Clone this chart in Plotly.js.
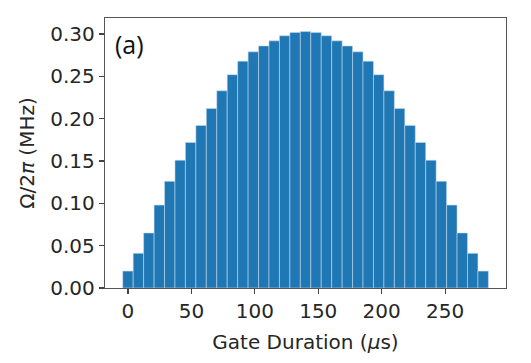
<!DOCTYPE html>
<html>
<head>
<meta charset="utf-8">
<script src="https://cdn.plot.ly/plotly-3.0.1.min.js"></script>
<style>html,body{margin:0;padding:0;background:#fff;}#chart{width:531px;height:363px;}</style>
</head>
<body>
<div id="chart"></div>
<script>
// Gate duration (µs) of each pulse segment
var durations = [0, 8.24, 16.47, 24.71, 32.94, 41.18, 49.41, 57.65, 65.88, 74.12, 82.35, 90.59, 98.82, 107.06, 115.29, 123.53, 131.76, 140, 148.24, 156.47, 164.71, 172.94, 181.18, 189.41, 197.65, 205.88, 214.12, 222.35, 230.59, 238.82, 247.06, 255.29, 263.53, 271.76, 280];
// Rabi frequency Ω/2π (MHz)
var omega = [0.020, 0.041, 0.065, 0.098, 0.126, 0.151, 0.172, 0.192, 0.212, 0.233, 0.252, 0.268, 0.279, 0.286, 0.292, 0.298, 0.302, 0.303, 0.302, 0.298, 0.292, 0.286, 0.279, 0.268, 0.252, 0.233, 0.212, 0.192, 0.172, 0.151, 0.126, 0.098, 0.065, 0.041, 0.020];
var xTicks = [0, 50, 100, 150, 200, 250];
var yTicks = [0.00, 0.05, 0.10, 0.15, 0.20, 0.25, 0.30];
var yTickLabels = ["0.00", "0.05", "0.10", "0.15", "0.20", "0.25", "0.30"];
var panelLabel = "(a)";

var trace = {
  type: 'bar',
  x: durations,
  y: omega,
  width: 8.235,
  marker: {color: '#1f77b4', line: {color: 'rgba(200,220,240,0.55)', width: 1}},
  hoverinfo: 'x+y'
};

var axisFont = {family: 'DejaVu Sans, sans-serif', size: 20, color: '#262626'};

var layout = {
  width: 531, height: 363,
  margin: {l: 105, r: 25, t: 18, b: 75},
  paper_bgcolor: '#fff', plot_bgcolor: '#fff',
  showlegend: false,
  bargap: 0,
  font: axisFont,
  xaxis: {
    range: [-18.1, 298],
    tickmode: 'array', tickvals: xTicks,
    ticks: 'outside', ticklen: 5, tickwidth: 1.2, tickcolor: '#444',
    showline: true, linecolor: '#555', linewidth: 1.3, mirror: true,
    showgrid: false, zeroline: false,
    tickfont: axisFont,
    automargin: true,
    title: {text: 'Gate Duration (<i>μ</i>s)', font: axisFont, standoff: 12}
  },
  yaxis: {
    range: [0, 0.319],
    tickmode: 'array', tickvals: yTicks, ticktext: yTickLabels,
    ticks: 'outside', ticklen: 5, tickwidth: 1.2, tickcolor: '#444',
    showline: true, linecolor: '#555', linewidth: 1.3, mirror: true,
    showgrid: false, zeroline: false,
    tickfont: axisFont,
    automargin: true,
    title: {text: 'Ω/2<i>π</i> (MHz)', font: axisFont, standoff: 10}
  },
  annotations: [{
    text: panelLabel, xref: 'paper', yref: 'paper',
    x: 0.02, y: 0.975, xanchor: 'left', yanchor: 'top',
    showarrow: false,
    font: {family: 'Open Sans, sans-serif', size: 25, color: '#111'}
  }]
};

Plotly.newPlot('chart', [trace], layout, {displayModeBar: false, staticPlot: true});
</script>
</body>
</html>
